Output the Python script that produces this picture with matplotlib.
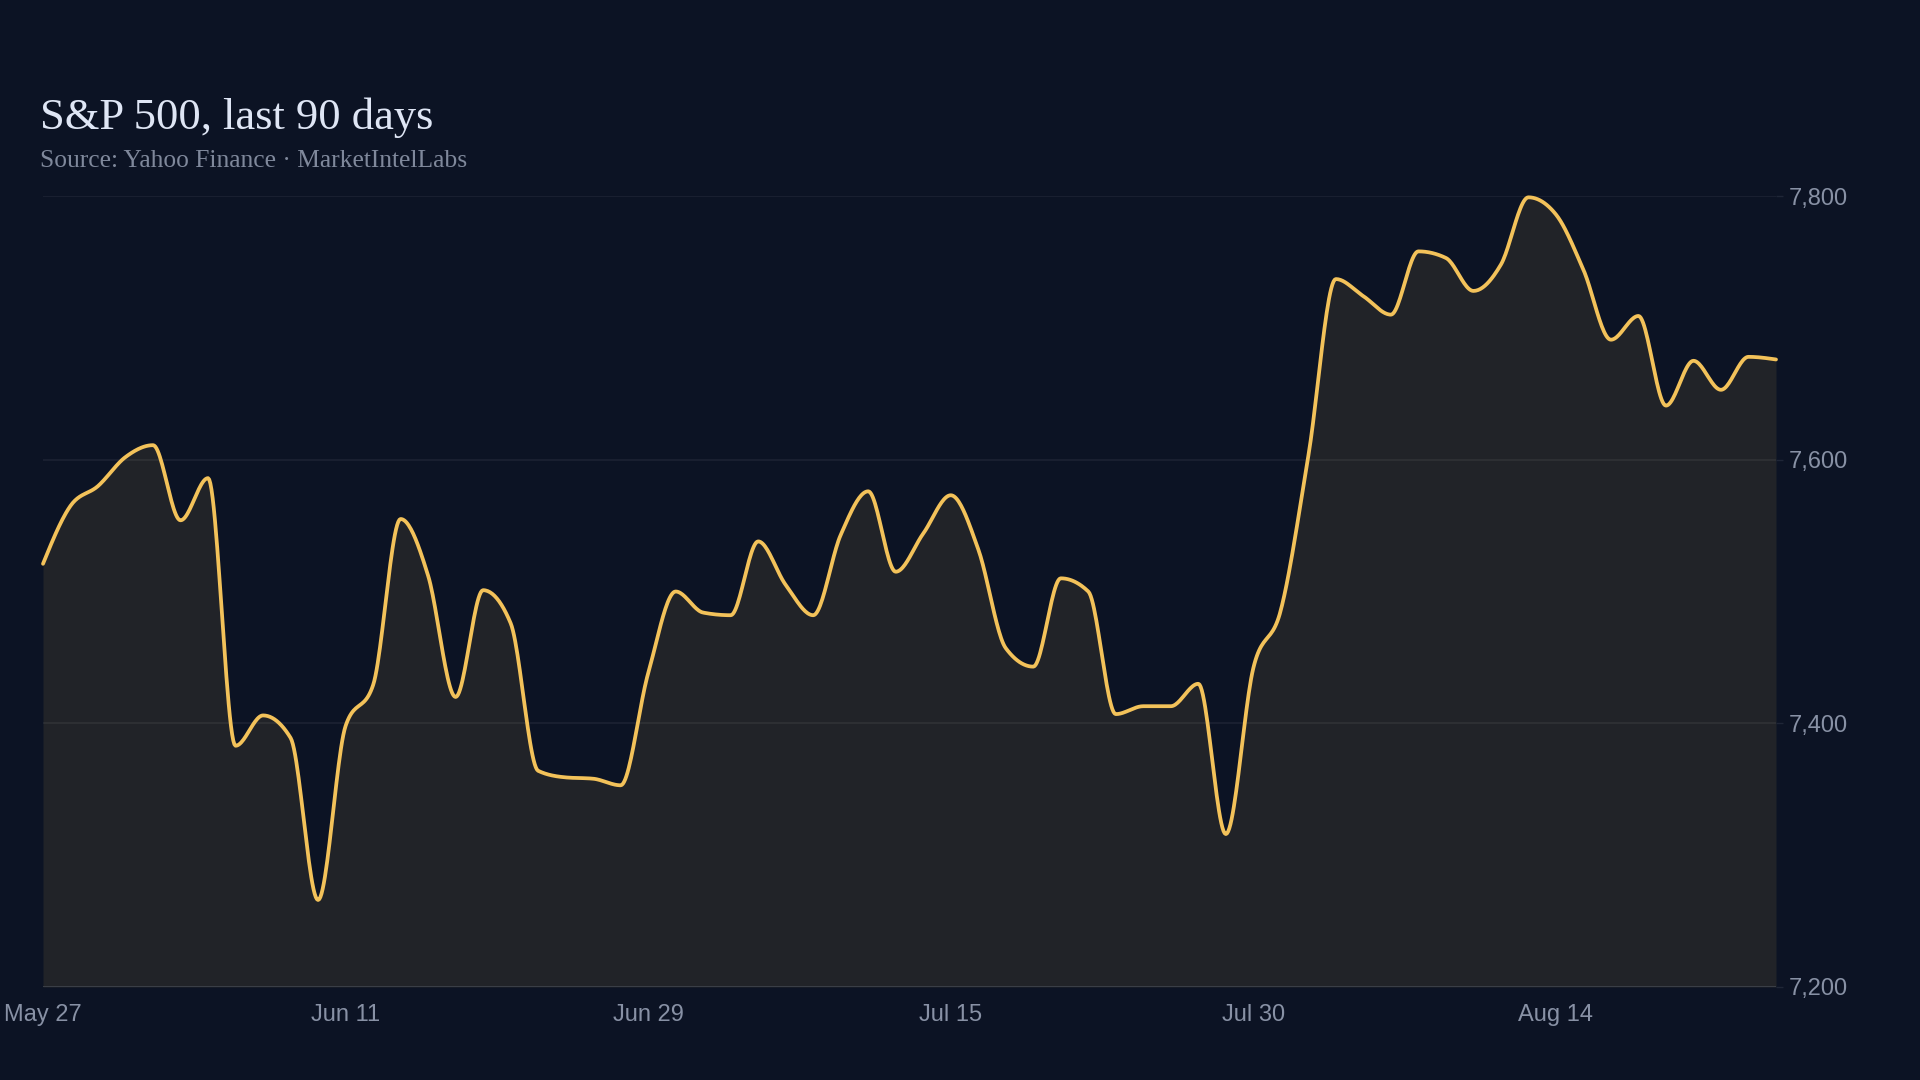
"""S&P 500, last 90 days: area chart with a smooth monotone line."""

import matplotlib

matplotlib.use("Agg")
import matplotlib.pyplot as plt  # noqa: E402
import numpy as np  # noqa: E402
import pandas as pd  # noqa: E402
from matplotlib.ticker import FuncFormatter  # noqa: E402

# trading days from May 27, 2026 (NYSE holidays skipped)
START_DATE = "2026-05-27"
HOLIDAYS = ["2026-06-19", "2026-07-03"]

CLOSE = [
    7521, 7565, 7580, 7602, 7611, 7554, 7586, 7383, 7406, 7389,
    7266, 7398, 7429, 7555, 7512, 7420, 7501, 7476, 7364, 7359,
    7358, 7353, 7438, 7500, 7484, 7482, 7538, 7505, 7482, 7543,
    7576, 7515, 7544, 7573, 7532, 7457, 7443, 7510, 7500, 7407,
    7413, 7413, 7430, 7316, 7442, 7486, 7603, 7737, 7724, 7710,
    7758, 7753, 7728, 7748, 7799, 7786, 7744, 7691, 7709, 7641,
    7675, 7653, 7678, 7676,
]
TICK_EVERY = 11
Y_TICKS = [7200, 7400, 7600, 7800]

COLORS = {
    "bg": "#0c1324",
    "fill": "#212328",
    "line": "#f3c25a",
    "grid": "#ffffff",
    "title": "#dfe6f5",
    "sub": "#7f889b",
    "tick": "#8891a5",
}


def monotone_curve(y, per_seg=24):
    """Steffen-style monotone cubic through evenly spaced points (like d3 monotoneX)."""
    y = np.asarray(y, dtype=float)
    n = len(y)
    s = np.diff(y)
    t = np.zeros(n)
    for i in range(1, n - 1):
        s0, s1 = s[i - 1], s[i]
        p = (s0 + s1) / 2
        t[i] = (np.sign(s0) + np.sign(s1)) * min(abs(s0), abs(s1), 0.5 * abs(p)) or 0.0
    t[0] = (3 * s[0] - t[1]) / 2
    t[-1] = (3 * s[-1] - t[-2]) / 2

    u = np.linspace(0, 1, per_seg, endpoint=False)
    h00 = 2 * u**3 - 3 * u**2 + 1
    h10 = u**3 - 2 * u**2 + u
    h01 = -2 * u**3 + 3 * u**2
    h11 = u**3 - u**2
    xs, ys = [], []
    for i in range(n - 1):
        xs.append(i + u)
        ys.append(h00 * y[i] + h10 * t[i] + h01 * y[i + 1] + h11 * t[i + 1])
    xs.append([n - 1])
    ys.append([y[-1]])
    return np.concatenate(xs), np.concatenate(ys)


dates = pd.bdate_range(START_DATE, periods=len(CLOSE), freq="C", holidays=HOLIDAYS)
tick_idx = list(range(0, len(CLOSE), TICK_EVERY))
tick_labels = [f"{dates[i]:%b} {dates[i].day}" for i in tick_idx]

fig = plt.figure(figsize=(19.2, 10.8), dpi=100)
fig.patch.set_facecolor(COLORS["bg"])
ax = fig.add_axes([43 / 1920, 1 - 987 / 1080, (1776 - 43) / 1920, (987 - 196) / 1080])
ax.set_facecolor(COLORS["bg"])

xs, ys = monotone_curve(CLOSE)
ax.fill_between(xs, ys, Y_TICKS[0], color=COLORS["fill"], lw=0, zorder=1)
ax.plot(xs, ys, color=COLORS["line"], lw=2.7, solid_capstyle="round",
        solid_joinstyle="round", zorder=3, clip_on=False)

ax.set_xlim(0, len(CLOSE) - 1)
ax.set_ylim(Y_TICKS[0], Y_TICKS[-1])
for sp in ax.spines.values():
    sp.set_visible(False)

ax.set_yticks(Y_TICKS)
ax.yaxis.tick_right()
ax.yaxis.set_major_formatter(FuncFormatter(lambda v, _: f"{v:,.0f}"))
ax.tick_params(axis="y", length=5, width=1, color="#1f2637", pad=4,
               labelsize=17, labelcolor=COLORS["tick"])
ax.grid(axis="y", color=COLORS["grid"], alpha=0.07, lw=1.1, zorder=2)
ax.axhline(Y_TICKS[0], color="#3b3f47", lw=1.4, zorder=2)

ax.set_xticks(tick_idx)
ax.set_xticklabels(tick_labels)
ax.tick_params(axis="x", length=0, pad=12, labelsize=17, labelcolor=COLORS["tick"])

for lab in ax.get_xticklabels() + ax.get_yticklabels():
    lab.set_fontfamily("Liberation Sans")

fig.text(40 / 1920, 1 - 129 / 1080, "S&P 500, last 90 days", family="Liberation Serif",
         fontsize=32, color=COLORS["title"], va="baseline", ha="left")
fig.text(40 / 1920, 1 - 167 / 1080, "Source: Yahoo Finance · MarketIntelLabs",
         family="Liberation Serif", fontsize=18.4, color=COLORS["sub"],
         va="baseline", ha="left")

fig.savefig("out.png", dpi=100, facecolor=fig.get_facecolor())
